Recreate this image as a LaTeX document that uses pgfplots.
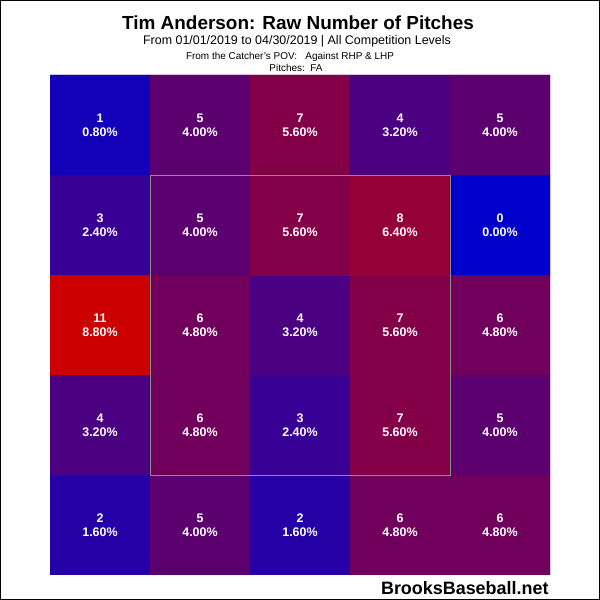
\documentclass[border=0pt]{standalone}
\usepackage{pgfplots}
\pgfplotsset{compat=1.18}
\usepackage{pgfplotstable}
\usepackage{fontspec}
\setmainfont{Liberation Sans}
\pgfkeys{/pgf/number format/assume math mode=true}
\pgfplotstableread{
x y c p
0.5 0.5 2 1.60
1.5 0.5 5 4.00
2.5 0.5 2 1.60
3.5 0.5 6 4.80
4.5 0.5 6 4.80
0.5 1.5 4 3.20
1.5 1.5 6 4.80
2.5 1.5 3 2.40
3.5 1.5 7 5.60
4.5 1.5 5 4.00
0.5 2.5 11 8.80
1.5 2.5 6 4.80
2.5 2.5 4 3.20
3.5 2.5 7 5.60
4.5 2.5 6 4.80
0.5 3.5 3 2.40
1.5 3.5 5 4.00
2.5 3.5 7 5.60
3.5 3.5 8 6.40
4.5 3.5 0 0.00
0.5 4.5 1 0.80
1.5 4.5 5 4.00
2.5 4.5 7 5.60
3.5 4.5 4 3.20
4.5 4.5 5 4.00
}\zonedata
\begin{document}
\begin{tikzpicture}
\useasboundingbox (0,0) rectangle (600bp,600bp);
\fill[white] (0,0) rectangle (600bp,600bp);
\begin{axis}[
  at={(50bp,25bp)}, anchor=south west,
  width=500bp, height=500bp, scale only axis,
  xmin=0, xmax=5, ymin=0, ymax=5,
  hide axis,
  /pgf/number format/assume math mode=true,
  colormap={bluered}{rgb255(0cm)=(0,0,204); rgb255(1cm)=(204,0,0)},
  point meta min=0, point meta max=11,
]
\addplot[matrix plot*, mesh/cols=5, point meta=explicit] table[x=x, y=y, meta=c] {\zonedata};
\addplot[draw={rgb,255:red,140;green,140;blue,140}, line width=0.8bp] coordinates {(1,1) (4,1) (4,4) (1,4) (1,1)};
\addplot[only marks, mark=none, point meta=explicit,
  visualization depends on={\thisrow{c}\as\cnt},
  visualization depends on={\thisrow{p}\as\pct},
  nodes near coords={\pgfmathprintnumber[int trunc,assume math mode=true]{\cnt}\\\pgfmathprintnumber[fixed,fixed zerofill,precision=2,assume math mode=true]{\pct}\%},
  nodes near coords align=center,
  every node near coord/.style={align=center, text=white, inner sep=0pt, font=\bfseries\fontsize{12.5}{14}\selectfont},
] table[x=x, y=y, meta=c] {\zonedata};
\end{axis}
\node[anchor=base, font=\bfseries\fontsize{19}{22}\selectfont] at (298bp,570.7bp) {Tim Anderson: Raw Number of Pitches};
\node[anchor=base, font=\fontsize{12.5}{14}\selectfont] at (297bp,555bp) {From 01/01/2019 to 04/30/2019 | All Competition Levels};
\node[anchor=base, font=\fontsize{10}{12}\selectfont] at (290bp,540bp) {From the Catcher's POV:\ \ \ Against RHP \& LHP};
\node[anchor=base, font=\fontsize{10}{12}\selectfont] at (296bp,528.3bp) {Pitches:\ \ FA};
\node[anchor=base east, font=\bfseries\fontsize{18}{20}\selectfont] at (552bp,5.7bp) {BrooksBaseball.net};
\draw[black, line width=1bp] (0.5bp,0.5bp) rectangle (599.5bp,599.5bp);
\end{tikzpicture}
\end{document}
